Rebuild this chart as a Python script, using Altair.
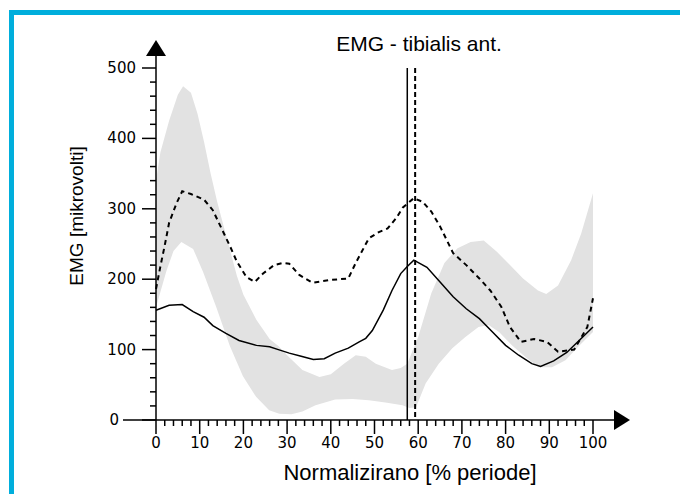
import altair as alt
import pandas as pd

# ---------------- texts ----------------
TITLE = "EMG - tibialis ant."
X_TITLE = "Normalizirano [% periode]"
Y_TITLE = "EMG [mikrovolti]"

# ---------------- data ----------------
mean_x = [0, 3, 6, 8.5, 11, 13, 16, 19, 23, 26, 28, 30.5, 33, 36, 38.5, 41, 44, 46.5, 48,
          49.5, 52, 54, 56, 57.5, 59, 62, 65, 68, 71, 74, 77, 80, 83, 86, 88, 91, 94, 97, 100]
mean_y = [156, 163, 164, 154, 146, 134, 123, 113, 106, 104, 100, 95, 91, 86, 87, 95, 102, 111, 116,
          127, 156, 184, 208, 218, 227, 217, 196, 175, 158, 144, 125, 106, 92, 80, 76, 84, 96, 114, 132]

dash_x = [0, 1, 2, 3, 4.7, 6, 8, 11, 13, 15, 17, 18.5, 20.7, 22.6, 24.5, 27, 29, 30.5, 32.8, 35.8,
          40, 44, 45.7, 48.7, 51, 53, 55, 56.5, 59, 61, 63, 65, 68, 71, 74, 76.5, 79, 81, 83.5,
          86.5, 89.5, 92, 95.7, 98.7, 100]
dash_y = [186, 218, 248, 280, 308, 325, 321, 313, 298, 272, 246, 225, 203, 196, 208, 220, 223, 222, 206, 195,
          199, 201, 223, 258, 267, 272, 287, 302, 315, 310, 296, 275, 237, 220, 201, 184, 161, 132, 111,
          115, 111, 97, 100, 132, 173]

upper_x = [0, 1, 3, 5, 6.2, 8, 9.5, 11, 12.5, 14, 15.5, 17, 18.5, 20, 23, 26, 28, 30, 33.5, 37.4, 40,
           43, 45.7, 48, 50.3, 54, 56, 57.5, 60, 63, 66, 69, 72, 75, 78, 81, 84, 87.4, 89.3, 92, 95,
           97.3, 100]
upper_y = [340, 380, 425, 462, 474, 465, 435, 395, 350, 310, 275, 240, 205, 178, 142, 115, 105, 92, 71, 61, 65,
           80, 92, 90, 80, 71, 74, 80, 118, 180, 223, 244, 253, 255, 239, 220, 201, 184, 179, 191, 227,
           265, 322]

lower_x = [0, 2.4, 4, 5.8, 8.5, 10.8, 13.8, 16.9, 19.9, 22.9, 25.9, 28.2, 31, 33.5, 36.5, 41, 45, 48.7,
           52.5, 56.4, 58, 59.5, 61.7, 64.7, 67.8, 70.8, 73.8, 76.1, 78.5, 81.5, 84.6, 87.6, 90.6,
           93.7, 96.6, 100]
lower_y = [160, 212, 240, 253, 243, 210, 160, 105, 62, 33, 14, 9, 8, 12, 21, 29, 30, 28,
           25, 21, 17, 18, 52, 80, 102, 118, 132, 135, 125, 106, 89, 75, 75,
           85, 104, 125]

event_solid = [57.5]
event_dashed = [59.3]

x_major = [0, 10, 20, 30, 40, 50, 60, 70, 80, 90, 100]
x_minor = [v for v in range(0, 101, 2) if v % 10 != 0]
y_major = [0, 100, 200, 300, 400, 500]
y_minor = [v for v in range(0, 501, 20) if v % 100 != 0]

# ---------------- layout ----------------
W, H = 437, 352
PAD = {"left": 156, "top": 68, "right": 87, "bottom": 74}
GRAY = "#e2e2e2"
CYAN = "#00aedc"
TICK_FONT = "DejaVu Sans"
TITLE_FONT = "Liberation Sans"

xs = alt.Scale(domain=[0, 100], nice=False, zero=False)
ys = alt.Scale(domain=[0, 500], nice=False, zero=False)


def X(f):
    return alt.X(f, type="quantitative", scale=xs, axis=None)


def Y(f):
    return alt.Y(f, type="quantitative", scale=ys, axis=None)


one = pd.DataFrame({"k": [0]})

band_hi = alt.Chart(pd.DataFrame({"x": upper_x, "y": upper_y})).mark_area(
    color=GRAY, opacity=1).encode(x=X("x"), y=Y("y"))
band_lo = alt.Chart(pd.DataFrame({"x": lower_x, "y": lower_y})).mark_area(
    color="white", opacity=1).encode(x=X("x"), y=Y("y"))

mean_line = alt.Chart(pd.DataFrame({"x": mean_x, "y": mean_y})).mark_line(
    color="black", strokeWidth=1.5).encode(x=X("x"), y=Y("y"))
dash_line = alt.Chart(pd.DataFrame({"x": dash_x, "y": dash_y})).mark_line(
    color="black", strokeWidth=2, strokeDash=[5, 4]).encode(x=X("x"), y=Y("y"))

ev1 = alt.Chart(pd.DataFrame({"x": event_solid})).mark_rule(
    color="black", strokeWidth=1.5).encode(x=X("x"), y=alt.value(0), y2=alt.value(H))
ev2 = alt.Chart(pd.DataFrame({"x": event_dashed})).mark_rule(
    color="black", strokeWidth=2, strokeDash=[5, 3]).encode(x=X("x"), y=alt.value(0), y2=alt.value(H))

# axes
y_axis = alt.Chart(one).mark_rule(color="black", strokeWidth=1.5).encode(
    x=alt.value(0), y=alt.value(H), y2=alt.value(-12))
x_axis = alt.Chart(one).mark_rule(color="black", strokeWidth=1.5).encode(
    y=alt.value(H), x=alt.value(-33), x2=alt.value(460))
y_arrow = alt.Chart(one).mark_point(
    shape="M0,-1L1,0.6L-1,0.6Z", filled=True, color="black", size=400, opacity=1, strokeWidth=0
).encode(x=alt.value(0), y=alt.value(-18))
x_arrow = alt.Chart(one).mark_point(
    shape="M1,0L-0.6,-1L-0.6,1Z", filled=True, color="black", size=400, opacity=1, strokeWidth=0
).encode(x=alt.value(464), y=alt.value(H))

y_maj = alt.Chart(pd.DataFrame({"v": y_major})).mark_rule(color="black", strokeWidth=1.5).encode(
    y=Y("v"), x=alt.value(-14), x2=alt.value(0))
y_min = alt.Chart(pd.DataFrame({"v": y_minor})).mark_rule(color="black", strokeWidth=1.5).encode(
    y=Y("v"), x=alt.value(-6), x2=alt.value(0))
x_maj = alt.Chart(pd.DataFrame({"v": x_major})).mark_rule(color="black", strokeWidth=1.5).encode(
    x=X("v"), y=alt.value(H), y2=alt.value(H + 14))
x_min = alt.Chart(pd.DataFrame({"v": x_minor})).mark_rule(color="black", strokeWidth=1.5).encode(
    x=X("v"), y=alt.value(H), y2=alt.value(H + 6))

y_lab = alt.Chart(pd.DataFrame({"v": y_major})).transform_calculate(
    lx="datum.v == 0 ? -37 : -20", txt="'' + datum.v"
).mark_text(align="right", baseline="middle", font=TICK_FONT, fontSize=15, color="black").encode(
    y=Y("v"), x=alt.X("lx:Q", scale=None, axis=None), text="txt:N")
x_lab = alt.Chart(pd.DataFrame({"v": x_major})).transform_calculate(
    txt="'' + datum.v"
).mark_text(align="center", baseline="middle", font=TICK_FONT, fontSize=15, color="black").encode(
    x=X("v"), y=alt.value(H + 23), text="txt:N")

title = alt.Chart(one).mark_text(align="center", baseline="middle", font=TITLE_FONT,
                                 fontSize=21, color="black").encode(
    x=alt.value(263), y=alt.value(-23), text=alt.value(TITLE))
x_title = alt.Chart(one).mark_text(align="center", baseline="middle", font=TITLE_FONT,
                                   fontSize=22, color="black").encode(
    x=alt.value(254), y=alt.value(405), text=alt.value(X_TITLE))
y_title = alt.Chart(one).mark_text(align="center", baseline="middle", font=TITLE_FONT,
                                   fontSize=19, color="black", angle=270).encode(
    x=alt.value(-79), y=alt.value(148), text=alt.value(Y_TITLE))

# cyan frame
frame_top = alt.Chart(one).mark_rule(color=CYAN, strokeWidth=5).encode(
    y=alt.value(-55.5), x=alt.value(-147), x2=alt.value(524))
frame_left = alt.Chart(one).mark_rule(color=CYAN, strokeWidth=5).encode(
    x=alt.value(-144.5), y=alt.value(-58), y2=alt.value(426))

chart = alt.layer(
    band_hi, band_lo, dash_line, mean_line, ev1, ev2,
    y_min, y_maj, x_min, x_maj, y_axis, x_axis, y_arrow, x_arrow,
    y_lab, x_lab, title, x_title, y_title, frame_top, frame_left,
).properties(
    width=W, height=H,
    autosize=alt.AutoSizeParams(type="none"),
    padding=PAD,
).configure_view(stroke=None)

chart.save("out.html", embed_options={"renderer": "svg", "actions": False})
